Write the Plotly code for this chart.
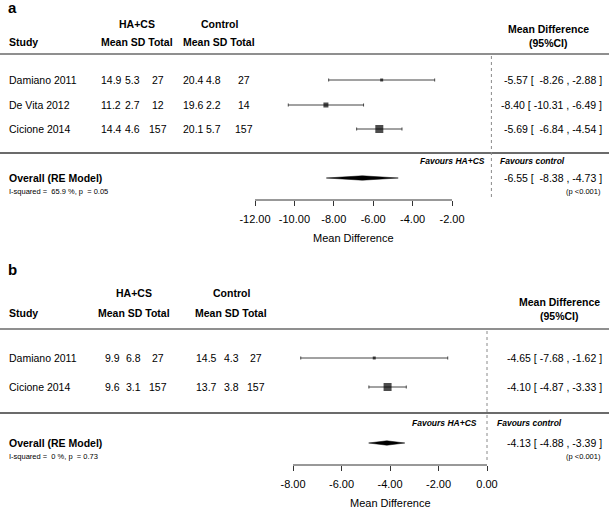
import plotly.graph_objects as go

# ---------------- data ----------------
studies_a = ["Damiano 2011", "De Vita 2012", "Cicione 2014"]
ha_mean_a = [14.9, 11.2, 14.4]
ha_sd_a = [5.3, 2.7, 4.6]
ha_n_a = [27, 12, 157]
ctl_mean_a = [20.4, 19.6, 20.1]
ctl_sd_a = [4.8, 2.2, 5.7]
ctl_n_a = [27, 14, 157]
md_a = [-5.57, -8.40, -5.69]
lo_a = [-8.26, -10.31, -6.84]
hi_a = [-2.88, -6.49, -4.54]
overall_a = [-6.55, -8.38, -4.73]
i2_a = "65.9"
phet_a = "0.05"
ticks_a = [-12, -10, -8, -6, -4, -2]

studies_b = ["Damiano 2011", "Cicione 2014"]
ha_mean_b = [9.9, 9.6]
ha_sd_b = [6.8, 3.1]
ha_n_b = [27, 157]
ctl_mean_b = [14.5, 13.7]
ctl_sd_b = [4.3, 3.8]
ctl_n_b = [27, 157]
md_b = [-4.65, -4.10]
lo_b = [-7.68, -4.87]
hi_b = [-1.62, -3.33]
overall_b = [-4.13, -4.88, -3.39]
i2_b = "0"
phet_b = "0.73"
ticks_b = [-8, -6, -4, -2, 0]

# ---------------- style / layout ----------------
W, H = 609, 508
FONT = "Liberation Sans, Arial, Helvetica, sans-serif"
NB = "\u00a0"
sq_a = [3, 5, 8]
sq_b = [3, 8]

fig = go.Figure()


def txt(x, y, s, size=10.5, bold=False, italic=False, anchor="left", color="black"):
    if italic:
        s = f"<i>{s}</i>"
    if bold:
        s = f"<b>{s}</b>"
    fig.add_annotation(x=x / W, y=y, xref="paper", yref="y", text=s, showarrow=False,
                       xanchor=anchor, yanchor="middle", borderpad=0,
                       font=dict(size=size, color=color, family=FONT))


def ci_text(e, l, h, width):
    ls = f"{l:.2f}"
    pad = NB * (width - len(ls))
    return f"{e:.2f}{NB}[{NB}{pad}{ls}{NB},{NB}{h:.2f}{NB}]"


def hline(y, color, w=1.5):
    fig.add_shape(type="line", xref="paper", yref="y", x0=0, x1=1, y0=y, y1=y,
                  line=dict(color=color, width=w))


def panel(xa, ydict, studies, hm, hs, hn, cm, cs, cn, md, lo, hi, ov, i2, ph, ticks, sq, cols):
    xref = "x" if xa == "x" else "x2"
    # header
    txt(cols["hc"], ydict["grp"], "HA+CS", bold=True, anchor="center")
    txt(cols["cc"], ydict["grp"], "Control", bold=True, anchor="center")
    txt(8, ydict["sub"], "Study", bold=True)
    txt(cols["hc"], ydict["sub"], "Mean SD Total", bold=True, anchor="center")
    txt(cols["cc"], ydict["sub"], "Mean SD Total", bold=True, anchor="center")
    txt(cols["md"], ydict["md1"], "Mean Difference", bold=True, anchor="center")
    txt(cols["md"], ydict["md1"] + 13.5, "(95%CI)", bold=True, anchor="center")
    hline(ydict["line1"], "#6a6a6a")
    hline(ydict["line2"], "#3a3a3a")
    width = max(len(f"{v:.2f}") for v in lo + [ov[1]])
    for i, s in enumerate(studies):
        y = ydict["rows"][i]
        txt(8, y, s)
        txt(cols["m1"], y, f"{hm[i]:.1f}", anchor="center")
        txt(cols["s1"], y, f"{hs[i]:.1f}", anchor="center")
        txt(cols["n1"], y, f"{hn[i]}", anchor="center")
        txt(cols["m2"], y, f"{cm[i]:.1f}", anchor="center")
        txt(cols["s2"], y, f"{cs[i]:.1f}", anchor="center")
        txt(cols["n2"], y, f"{cn[i]}", anchor="center")
        txt(603, y, ci_text(md[i], lo[i], hi[i], width), anchor="right")
    # study estimates
    fig.add_trace(go.Scatter(
        x=md, y=ydict["rows"], xaxis=xa, yaxis="y", mode="markers",
        marker=dict(symbol="square", size=sq, color="black", line=dict(width=0)),
        error_x=dict(type="data", symmetric=False,
                     array=[h - m for h, m in zip(hi, md)],
                     arrayminus=[m - l for m, l in zip(md, lo)],
                     color="#444444", thickness=1, width=1.5),
        hoverinfo="skip", cliponaxis=False))
    # overall diamond
    yc = ydict["ov"]
    dh = 2.2
    fig.add_trace(go.Scatter(
        x=[ov[1], ov[0], ov[2], ov[0], ov[1]], y=[yc, yc - dh, yc, yc + dh, yc],
        xaxis=xa, yaxis="y", mode="lines", fill="toself", fillcolor="black",
        line=dict(color="black", width=0.5), hoverinfo="skip"))
    txt(8, yc, "Overall (RE Model)", bold=True)
    txt(8, yc + 13.5, f"I-squared ={NB} {i2} %, p {NB}= {ph}", size=7.5)
    txt(603, yc, ci_text(ov[0], ov[1], ov[2], width), anchor="right")
    txt(602, yc + 13.5, "(p <0.001)", size=7.5, anchor="right")
    txt(cols["fav_r"], ydict["fav"], "Favours HA+CS", size=8.5, bold=True, italic=True, anchor="right")
    txt(cols["fav_l"], ydict["fav"], "Favours control", size=8.5, bold=True, italic=True)
    # zero line
    fig.add_shape(type="line", xref=xref, yref="y", x0=0, x1=0,
                  y0=ydict["line1"] + 2, y1=ydict["axis"] - 2,
                  line=dict(color="#8a8a8a", width=1, dash="dot"))
    # axis line
    fig.add_shape(type="line", xref=xref, yref="y", x0=min(ticks), x1=max(ticks),
                  y0=ydict["axis"], y1=ydict["axis"], line=dict(color="#333333", width=1))
    txt(cols["axc"], ydict["axt"], "Mean Difference", size=11, anchor="center")


panel("x", dict(grp=24, sub=42, md1=29, line1=54, line2=153, rows=[80, 105, 129],
                fav=161, ov=178, axis=200, axt=238),
      studies_a, ha_mean_a, ha_sd_a, ha_n_a, ctl_mean_a, ctl_sd_a, ctl_n_a,
      md_a, lo_a, hi_a, overall_a, i2_a, phet_a, ticks_a, sq_a,
      dict(hc=137, cc=219, md=548, m1=111, s1=132, n1=158, m2=193, s2=213, n2=244,
           fav_r=486, fav_l=499, axc=353))

panel("x2", dict(grp=293, sub=313, md1=302, line1=329, line2=413, rows=[358, 387],
                 fav=423, ov=443, axis=465, axt=503),
      studies_b, ha_mean_b, ha_sd_b, ha_n_b, ctl_mean_b, ctl_sd_b, ctl_n_b,
      md_b, lo_b, hi_b, overall_b, i2_b, phet_b, ticks_b, sq_b,
      dict(hc=134, cc=231, md=559, m1=112, s1=133, n1=158, m2=207, s2=231, n2=256,
           fav_r=478, fav_l=496, axc=390))

txt(7, 7, "a", size=15, bold=True)
txt(7, 269, "b", size=15, bold=True)

# scales: panel a  -12 -> px 255, -2 -> px 452 ; panel b  -8 -> px 293, 0 -> px 487
sa = (452 - 255) / 10.0
za = 452 + 2 * sa
sb = (487 - 293) / 8.0
zb = 487.0

axis_common = dict(domain=[0, 1], showline=False, showgrid=False, zeroline=False,
                   ticks="outside", ticklen=5, tickwidth=1, tickcolor="#333333",
                   ticklabelstandoff=4,
                   tickfont=dict(size=11, family=FONT, color="black"), fixedrange=True,
                   anchor="free")

fig.update_layout(
    width=W, height=H, margin=dict(l=0, r=0, t=0, b=0),
    paper_bgcolor="white", plot_bgcolor="white", showlegend=False,
    xaxis=dict(range=[-za / sa, (W - za) / sa], position=1 - 200 / H,
               tickvals=ticks_a, ticktext=[f"{t:.2f}" for t in ticks_a], **axis_common),
    xaxis2=dict(range=[-zb / sb, (W - zb) / sb], position=1 - 465 / H, overlaying="x",
                tickvals=ticks_b, ticktext=[f"{t:.2f}" for t in ticks_b], **axis_common),
    yaxis=dict(range=[H, 0], domain=[0, 1], visible=False, fixedrange=True),
)

fig.write_html("out.html", config={"displayModeBar": False},
               post_script="document.body.style.margin='0px';document.body.style.overflow='hidden';")
